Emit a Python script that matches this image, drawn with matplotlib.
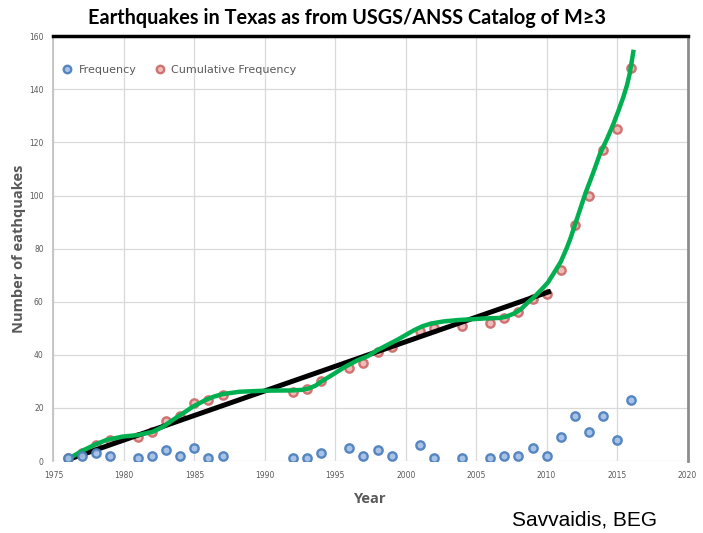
import numpy as np
import matplotlib
matplotlib.use("Agg")
import matplotlib.pyplot as plt

# yearly counts (M>=3)
years = [1976, 1977, 1978, 1979, 1981, 1982, 1983, 1984, 1985, 1986, 1987,
         1992, 1993, 1994, 1996, 1997, 1998, 1999, 2001, 2002, 2004,
         2006, 2007, 2008, 2009, 2010, 2011, 2012, 2013, 2014, 2015, 2016]
frequency = [1, 2, 3, 2, 1, 2, 4, 2, 5, 1, 2,
             1, 1, 3, 5, 2, 4, 2, 6, 1, 1,
             1, 2, 2, 5, 2, 9, 17, 11, 17, 8, 23]
cumulative = np.cumsum(frequency)

# black linear trend (end points)
trend_years = [1976.0, 2010.3]
trend_vals = [0.5, 64.0]

# green smooth trend
green_years = [1976.05, 1977.1, 1978.0, 1978.75, 1979.9, 1981.0, 1982.05, 1982.8,
               1983.45, 1984.2, 1984.9, 1985.8, 1986.4, 1987.0, 1988.2, 1990.0,
               1991.9, 1992.6, 1993.1, 1993.6, 1994.0, 1994.8, 1995.7, 1996.6,
               1997.3, 1998.0, 1999.45, 2000.6, 2001.2, 2001.8, 2002.7, 2003.7,
               2005.6, 2006.7, 2007.2, 2007.7, 2008.2, 2008.6, 2009.1, 2009.6,
               2010.1, 2010.5, 2011.0, 2011.45, 2011.7, 2012.2, 2012.75, 2013.3,
               2013.8, 2014.3, 2014.75, 2015.1, 2015.45, 2015.7, 2015.9, 2016.15]
green_vals = [0.8, 4.0, 6.3, 7.9, 9.2, 9.8, 11.0, 13.0,
              15.4, 18.0, 20.5, 23.0, 24.3, 25.2, 26.1, 26.5,
              26.6, 26.8, 27.3, 28.4, 29.9, 32.5, 35.5, 38.0,
              39.5, 41.8, 45.8, 49.3, 50.8, 51.8, 52.6, 53.1,
              53.7, 53.9, 54.5, 55.6, 57.3, 59.4, 61.7, 64.4,
              67.3, 70.7, 75.0, 80.5, 84.0, 92.0, 100.8, 108.5,
              115.9, 121.5, 127.1, 132.0, 137.2, 141.5, 146.0, 154.1]

grey = "#595959"

fig = plt.figure(figsize=(7.03, 5.33), dpi=100)
ax = fig.add_axes([0.076, 0.135, 0.902, 0.797])

ax.plot(trend_years, trend_vals, color="black", lw=3.6, solid_capstyle="butt", zorder=3)
ax.plot(green_years, green_vals, color="#00b050", lw=3.2, solid_joinstyle="round", zorder=4)

ax.plot(years, frequency, "o", ls="none", ms=6, mew=1.7, mec="#4f81bd", mfc="#a3c0e6",
        alpha=0.95, label="Frequency", zorder=5)
ax.plot(years, cumulative, "o", ls="none", ms=6, mew=1.7, mec="#c9605d", mfc="#e9b0ae",
        alpha=0.85, label="Cumulative Frequency", zorder=2)

ax.set_xlim(1975, 2020)
ax.set_ylim(0, 160)
ax.set_xticks(range(1975, 2021, 5))
ax.set_yticks(range(0, 161, 20))
ax.grid(True, color="#d9d9d9", lw=0.9)
ax.set_axisbelow(True)
ax.tick_params(length=0, labelsize=5.5, colors=grey, pad=7)

ax.spines["top"].set_color("black")
ax.spines["top"].set_linewidth(2.5)
ax.spines["right"].set_color("#8c8c8c")
ax.spines["right"].set_linewidth(2)
ax.spines["left"].set_color("#bfbfbf")
ax.spines["left"].set_linewidth(1.2)
ax.spines["bottom"].set_visible(False)

ax.set_xlabel("Year", fontsize=10.5, fontweight="bold", color=grey, labelpad=9,
              family=["Open Sans", "DejaVu Sans"])
ax.set_ylabel("Number of eathquakes", fontsize=10.5, fontweight="bold", color=grey, labelpad=2,
              family=["Open Sans", "DejaVu Sans"])

leg = ax.legend(loc="upper left", bbox_to_anchor=(-0.012, 0.955), ncol=2, frameon=False,
                fontsize=8, handletextpad=0.05, columnspacing=1.1, markerscale=0.9)
for t in leg.get_texts():
    t.set_color(grey)

fig.text(0.494, 0.966, "Earthquakes in Texas as from USGS/ANSS Catalog of M\u22653",
         ha="center", va="center", fontsize=14.3, fontweight="bold", family=["Lato", "DejaVu Sans"])
fig.text(0.832, 0.025, "Savvaidis, BEG", ha="center", va="center", fontsize=15,
         family="Liberation Sans")

fig.savefig("out.png", dpi=100)
